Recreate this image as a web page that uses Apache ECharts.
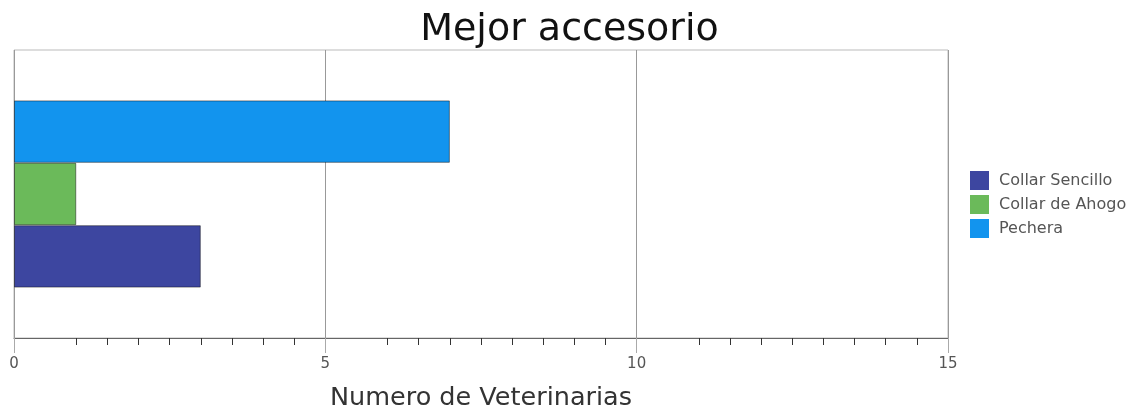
<!DOCTYPE html>
<html>
<head>
<meta charset="utf-8">
<script src="https://cdn.jsdelivr.net/npm/echarts@6/dist/echarts.min.js"></script>
<style>
  html, body { margin: 0; padding: 0; background: #fff; }
  #chart { width: 1139px; height: 409px; }
</style>
</head>
<body>
<div id="chart"></div>
<script>
// Chart data
const titleText = 'Mejor accesorio';
const axisName = 'Numero de Veterinarias';
const categories = [''];
const seriesNames = ['Collar Sencillo', 'Collar de Ahogo', 'Pechera'];
const seriesColors = ['#3D46A0', '#6BBA5A', '#1294EE'];
const collarSencillo = [3];
const collarDeAhogo = [1];
const pechera = [7];
const xMin = 0, xMax = 15, xStep = 5;

// Small ticks every half unit, starting one unit after each major tick
const minorTicks = [];
for (let m = xMin; m < xMax; m += xStep) {
  for (let v = m + 1; v < m + xStep; v += 0.5) minorTicks.push(v);
}

const seriesValues = [collarSencillo, collarDeAhogo, pechera];
const font = 'DejaVu Sans';

// Bars stack from the top of the band, so add series last-to-first
// to keep the first series at the bottom.
const order = [2, 1, 0];

const chart = echarts.init(document.getElementById('chart'), null, { renderer: 'canvas' });
chart.setOption({
  animation: false,
  title: {
    text: titleText,
    left: 'center',
    top: 6,
    textStyle: { fontFamily: font, fontSize: 38, fontWeight: 'normal', color: '#111' }
  },
  legend: {
    orient: 'vertical',
    left: 970,
    top: 171,
    padding: 0,
    itemWidth: 19,
    itemHeight: 19,
    itemGap: 5,
    icon: 'rect',
    itemStyle: { borderWidth: 0 },
    textStyle: { fontFamily: font, fontSize: 16, color: '#555', padding: [0, 0, 0, 5] },
    data: seriesNames
  },
  grid: {
    left: 14, right: 191, top: 50, bottom: 71,
    outerBoundsMode: 'none',
    containLabel: false,
    show: true, borderColor: '#bbb', borderWidth: 1
  },
  xAxis: [{
    type: 'value',
    min: xMin, max: xMax, interval: xStep,
    name: axisName,
    nameLocation: 'middle',
    nameGap: 47,
    nameTextStyle: { fontFamily: font, fontSize: 25.5, color: '#333' },
    axisLine: { show: true, lineStyle: { color: '#666', width: 1 } },
    axisTick: { show: true, length: 15, lineStyle: { color: '#aaa' } },
    axisLabel: { fontFamily: font, fontSize: 15, color: '#555', margin: 19 },
    splitLine: { show: true, lineStyle: { color: '#999', width: 1 } }
  }, {
    type: 'value',
    position: 'bottom',
    offset: 0,
    min: xMin, max: xMax,
    axisLine: { show: false },
    axisLabel: { show: false, customValues: minorTicks },
    axisTick: { show: true, inside: false, length: 7, customValues: minorTicks, lineStyle: { color: '#333' } },
    splitLine: { show: false }
  }],
  yAxis: {
    type: 'category',
    data: categories,
    axisLine: { show: false },
    axisTick: { show: false },
    axisLabel: { show: false }
  },
  series: order.map(i => ({
    name: seriesNames[i],
    type: 'bar',
    data: seriesValues[i],
    barGap: 0,
    barCategoryGap: '35%',
    itemStyle: {
      color: seriesColors[i],
      borderColor: 'rgba(0,0,0,0.45)',
      borderWidth: 1
    }
  }))
});
</script>
</body>
</html>
